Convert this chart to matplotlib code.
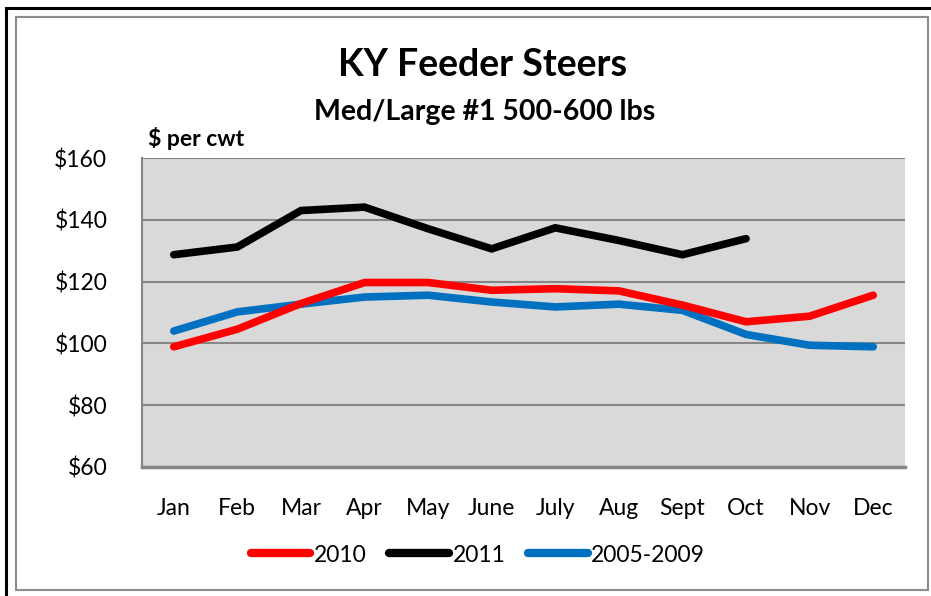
import matplotlib
matplotlib.use("Agg")
import matplotlib.pyplot as plt
from matplotlib.lines import Line2D
from matplotlib.patches import Rectangle

# ---------------------------------------------------------------------------
# Data
# ---------------------------------------------------------------------------

months = ["Jan", "Feb", "Mar", "Apr", "May", "June",
          "July", "Aug", "Sept", "Oct", "Nov", "Dec"]

y2010 = [98.9, 104.6, 112.9, 119.7, 119.7, 117.2,
         117.7, 117.0, 112.4, 107.0, 108.8, 115.6]
y2011 = [128.7, 131.2, 143.0, 144.1, 137.1, 130.6,
         137.4, 133.3, 128.7, 133.9]
avg_0509 = [104.0, 110.2, 112.7, 115.0, 115.6, 113.4,
            111.8, 112.7, 110.7, 102.9, 99.4, 98.9]

y_ticks = [60, 80, 100, 120, 140, 160]

# ---------------------------------------------------------------------------
# Figure
# ---------------------------------------------------------------------------

plt.rcParams["font.family"] = ["Lato", "DejaVu Sans"]

W, H = 931, 596
fig = plt.figure(figsize=(W / 100, H / 100), dpi=100)

# outer frames (black on top/left, grey chart border)
fig.add_artist(Line2D([6 / W, 6 / W], [0, 1 - 8 / H], color="black", lw=2.2))
fig.add_artist(Line2D([6 / W, 1], [1 - 8 / H, 1 - 8 / H], color="black", lw=2.2))
fig.add_artist(Rectangle((16 / W, 1 - 590 / H), (928 - 16) / W, (590 - 17) / H,
                         fill=False, edgecolor="#8c8c8c", lw=1.5))

ax = fig.add_axes([142 / W, 1 - 467 / H, (905 - 142) / W, (467 - 158) / H])
ax.set_facecolor("#D9D9D9")

x = list(range(len(months)))
lw = 5.5
ax.plot(x, y2010, color="#FF0000", lw=lw, solid_capstyle="round",
        solid_joinstyle="miter", label="2010", zorder=3)
ax.plot(x[:len(y2011)], y2011, color="black", lw=lw, solid_capstyle="round",
        solid_joinstyle="miter", label="2011", zorder=3)
ax.plot(x, avg_0509, color="#0070C0", lw=lw, solid_capstyle="round",
        solid_joinstyle="miter", label="2005-2009", zorder=2)

ax.set_xlim(-0.5, len(months) - 0.5)
ax.set_ylim(60, 160)
ax.set_yticks(y_ticks)
ax.set_yticklabels([f"${v}" for v in y_ticks])
ax.set_xticks(x)
ax.set_xticklabels(months)
ax.tick_params(axis="both", length=0, labelsize=16.5, colors="black")
ax.tick_params(axis="y", pad=25)
ax.tick_params(axis="x", pad=22)

ax.grid(axis="y", color="#868686", lw=1.5, zorder=1)
ax.set_axisbelow(True)
for side in ("top", "right"):
    ax.spines[side].set_visible(False)
ax.spines["left"].set_color("#868686")
ax.spines["left"].set_linewidth(1.5)
ax.spines["bottom"].set_color("#868686")
ax.spines["bottom"].set_linewidth(2.5)

# titles
fig.text(483 / W, 1 - 76 / H, "KY Feeder Steers", ha="center", va="baseline",
         fontsize=27, fontweight="bold")
fig.text(485 / W, 1 - 120 / H, "Med/Large #1 500-600 lbs", ha="center",
         va="baseline", fontsize=20.5, fontweight="bold")
fig.text(148 / W, 1 - 146 / H, "$ per cwt", ha="left", va="baseline",
         fontsize=16.5, fontweight="bold")

leg = fig.legend(loc="center", bbox_to_anchor=(478 / W, 1 - 555 / H), ncol=3,
                 frameon=False, fontsize=16.5, handlelength=2.6, handletextpad=0.15,
                 columnspacing=1.0)
for h in leg.get_lines():
    h.set_linewidth(6)
    h.set_solid_capstyle("round")

fig.savefig("out.png", dpi=100)
